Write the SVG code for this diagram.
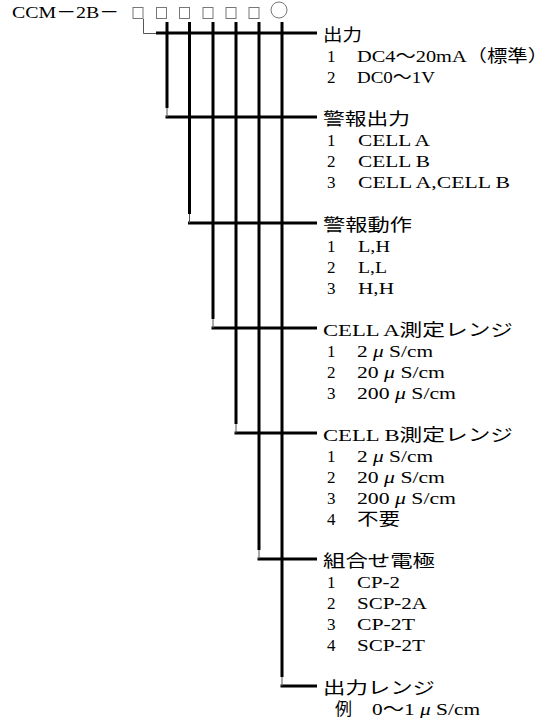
<svg xmlns="http://www.w3.org/2000/svg" width="550" height="718" viewBox="0 0 550 718">
<style>
text{font-family:"Liberation Serif","Noto Sans CJK JP",serif;font-size:17px;fill:#000}
.it{font-style:italic}
.thick{stroke:#000;stroke-width:3;fill:none}
.thin{stroke:#555;stroke-width:1;fill:none}
.box{fill:#fff;stroke:#777;stroke-width:1}
</style>
<rect width="550" height="718" fill="#fff"/>
<g id="code">
<text x="12" y="18" textLength="107" lengthAdjust="spacingAndGlyphs">CCM－2B－</text>
<rect class="box" x="133" y="7.5" width="10" height="11"/>
<rect class="box" x="156.5" y="7.5" width="10" height="11"/>
<rect class="box" x="179.5" y="7.5" width="10" height="11"/>
<rect class="box" x="203" y="7.5" width="10" height="11"/>
<rect class="box" x="226" y="7.5" width="10" height="11"/>
<rect class="box" x="249" y="7.5" width="10" height="11"/>
<circle class="box" cx="279" cy="10" r="8"/>
</g>
<g id="connectors">
<path class="thin" d="M143.5 19V33.5H157"/>
<path class="thick" d="M156 33H317"/>
<path class="thick" d="M167 22V108M165.5 117H317"/><path class="thin" d="M167 108V117"/>
<path class="thick" d="M189.5 22V214M188 223H317"/><path class="thin" d="M189.5 214V223"/>
<path class="thick" d="M213 22V319M211.5 328H317"/><path class="thin" d="M213 319V328"/>
<path class="thick" d="M236 22V424M234.5 433H317"/><path class="thin" d="M236 424V433"/>
<path class="thick" d="M259 22V550M257.5 559H317"/><path class="thin" d="M259 550V559"/>
<path class="thick" d="M282 22V677M280.5 686H317"/><path class="thin" d="M282 677V686"/>
</g>
<g id="n1">
<text x="323" y="41" textLength="39" lengthAdjust="spacingAndGlyphs">出力</text>
<text x="327" y="62">1</text><text x="357" y="62" textLength="191" lengthAdjust="spacingAndGlyphs">DC4～20mA（標準）</text>
<text x="327" y="83">2</text><text x="357" y="83" textLength="78" lengthAdjust="spacingAndGlyphs">DC0～1V</text>
</g>
<g id="n2">
<text x="323" y="125" textLength="87" lengthAdjust="spacingAndGlyphs">警報出力</text>
<text x="327" y="146">1</text><text x="358" y="146" textLength="72" lengthAdjust="spacingAndGlyphs">CELL A</text>
<text x="327" y="167">2</text><text x="358" y="167" textLength="72" lengthAdjust="spacingAndGlyphs">CELL B</text>
<text x="327" y="188">3</text><text x="358" y="188" textLength="152" lengthAdjust="spacingAndGlyphs">CELL A,CELL B</text>
</g>
<g id="n3">
<text x="323" y="231" textLength="89" lengthAdjust="spacingAndGlyphs">警報動作</text>
<text x="327" y="252">1</text><text x="358" y="252" textLength="32" lengthAdjust="spacingAndGlyphs">L,H</text>
<text x="327" y="273">2</text><text x="358" y="273" textLength="29" lengthAdjust="spacingAndGlyphs">L,L</text>
<text x="327" y="294">3</text><text x="358" y="294" textLength="36" lengthAdjust="spacingAndGlyphs">H,H</text>
</g>
<g id="n4">
<text x="323" y="336" textLength="190" lengthAdjust="spacingAndGlyphs">CELL A測定レンジ</text>
<text x="327" y="357">1</text><text x="357" y="357" textLength="76" lengthAdjust="spacingAndGlyphs">2 <tspan class="it">μ</tspan> S/cm</text>
<text x="327" y="378">2</text><text x="357" y="378" textLength="88" lengthAdjust="spacingAndGlyphs">20 <tspan class="it">μ</tspan> S/cm</text>
<text x="327" y="399">3</text><text x="357" y="399" textLength="99" lengthAdjust="spacingAndGlyphs">200 <tspan class="it">μ</tspan> S/cm</text>
</g>
<g id="n5">
<text x="323" y="441" textLength="190" lengthAdjust="spacingAndGlyphs">CELL B測定レンジ</text>
<text x="327" y="462">1</text><text x="357" y="462" textLength="76" lengthAdjust="spacingAndGlyphs">2 <tspan class="it">μ</tspan> S/cm</text>
<text x="327" y="483">2</text><text x="357" y="483" textLength="88" lengthAdjust="spacingAndGlyphs">20 <tspan class="it">μ</tspan> S/cm</text>
<text x="327" y="504">3</text><text x="357" y="504" textLength="99" lengthAdjust="spacingAndGlyphs">200 <tspan class="it">μ</tspan> S/cm</text>
<text x="327" y="525">4</text><text x="357" y="525" textLength="43" lengthAdjust="spacingAndGlyphs">不要</text>
</g>
<g id="n6">
<text x="323" y="567" textLength="112" lengthAdjust="spacingAndGlyphs">組合せ電極</text>
<text x="327" y="588">1</text><text x="357" y="588" textLength="43" lengthAdjust="spacingAndGlyphs">CP-2</text>
<text x="327" y="609">2</text><text x="357" y="609" textLength="70" lengthAdjust="spacingAndGlyphs">SCP-2A</text>
<text x="327" y="630">3</text><text x="357" y="630" textLength="58" lengthAdjust="spacingAndGlyphs">CP-2T</text>
<text x="327" y="651">4</text><text x="357" y="651" textLength="68" lengthAdjust="spacingAndGlyphs">SCP-2T</text>
</g>
<g id="n7">
<text x="323" y="694" textLength="112" lengthAdjust="spacingAndGlyphs">出力レンジ</text>
<text x="335" y="715">例</text><text x="372" y="715" textLength="108" lengthAdjust="spacingAndGlyphs">0～1 <tspan class="it">μ</tspan> S/cm</text>
</g>
</svg>
